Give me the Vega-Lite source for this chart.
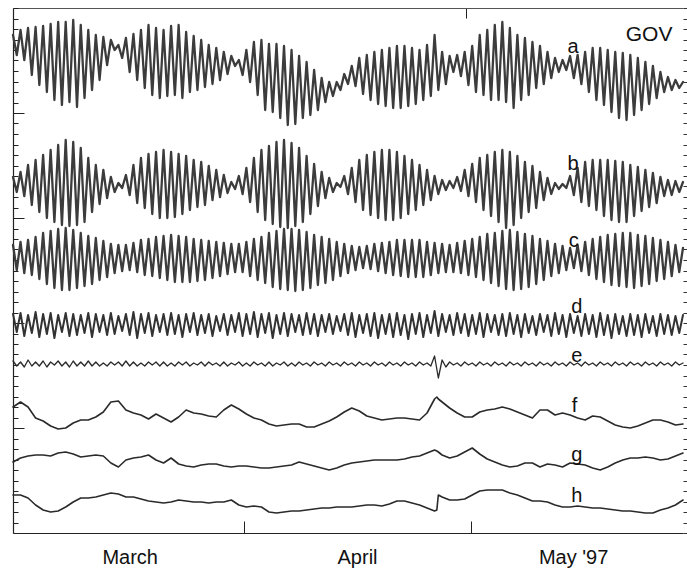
{
"$schema": "https://vega.github.io/schema/vega-lite/v6.json",
"width": 670, "height": 525,
"autosize": {"type": "none"},
"padding": {"left": 13, "top": 8, "right": 4, "bottom": 36},
"config": {"view": {"stroke": null}, "axis": {"grid": false}, "text": {"font": "Liberation Sans", "fill": "#111"}, "line": {"strokeJoin": "round", "strokeCap": "round"}},
"datasets": {
"osc": [
{"t":0,"a":3.3,"b":0.7,"c":1.2,"d":0.8,"e":0.3},{"t":0.5,"a":1.3,"b":-0.8,"c":-1.3,"d":-1.0,"e":-0.2},
{"t":1,"a":3.8,"b":1.2,"c":1.5,"d":0.9,"e":0.2},{"t":1.5,"a":0.8,"b":-1.2,"c":-1.6,"d":-1.4,"e":-0.3},
{"t":2,"a":4.0,"b":1.9,"c":1.7,"d":0.7,"e":0.4},{"t":2.5,"a":-0.7,"b":-2.1,"c":-1.8,"d":-1.1,"e":-0.2},
{"t":3,"a":4.1,"b":2.4,"c":2.0,"d":1.0,"e":0.2},{"t":3.5,"a":-1.7,"b":-2.8,"c":-2.2,"d":-1.5,"e":-0.2},
{"t":4,"a":4.2,"b":2.9,"c":2.4,"d":0.8,"e":0.3},{"t":4.5,"a":-2.4,"b":-3.4,"c":-2.7,"d":-1.2,"e":-0.3},
{"t":5,"a":4.4,"b":3.4,"c":2.6,"d":0.9,"e":0.2},{"t":5.5,"a":-3.2,"b":-3.8,"c":-3.1,"d":-1.6,"e":-0.1},
{"t":6,"a":4.6,"b":3.9,"c":2.8,"d":0.7,"e":0.3},{"t":6.5,"a":-3.7,"b":-4.1,"c":-3.3,"d":-1.0,"e":-0.2},
{"t":7,"a":4.6,"b":4.4,"c":2.9,"d":0.9,"e":0.2},{"t":7.5,"a":-3.4,"b":-4.2,"c":-3.3,"d":-1.4,"e":-0.3},
{"t":8,"a":4.8,"b":4.2,"c":2.7,"d":0.8,"e":0.3},{"t":8.5,"a":-3.9,"b":-4.1,"c":-3.1,"d":-1.3,"e":-0.2},
{"t":9,"a":4.3,"b":3.6,"c":2.4,"d":0.7,"e":0.2},{"t":9.5,"a":-3.0,"b":-3.8,"c":-2.9,"d":-1.1,"e":-0.2},
{"t":10,"a":3.8,"b":2.6,"c":2.1,"d":0.9,"e":0.3},{"t":10.5,"a":-2.2,"b":-2.8,"c":-2.7,"d":-1.5,"e":-0.2},
{"t":11,"a":3.3,"b":1.9,"c":1.9,"d":0.8,"e":0.2},{"t":11.5,"a":-1.2,"b":-2.0,"c":-2.3,"d":-1.0,"e":-0.2},
{"t":12,"a":3.1,"b":1.4,"c":1.6,"d":0.7,"e":0.1},{"t":12.5,"a":0.3,"b":-1.4,"c":-2.0,"d":-1.3,"e":-0.2},
{"t":13,"a":2.8,"b":0.7,"c":1.3,"d":0.9,"e":0.2},{"t":13.5,"a":1.8,"b":-0.8,"c":-1.6,"d":-1.2,"e":-0.1},
{"t":14,"a":2.3,"b":0.1,"c":1.2,"d":0.6,"e":0.2},{"t":14.5,"a":1.0,"b":-0.4,"c":-1.4,"d":-0.9,"e":-0.2},
{"t":15,"a":3.0,"b":0.9,"c":1.2,"d":0.8,"e":0.3},{"t":15.5,"a":-0.4,"b":-1.1,"c":-1.3,"d":-1.3,"e":-0.2},
{"t":16,"a":3.4,"b":1.9,"c":1.4,"d":1.0,"e":0.2},{"t":16.5,"a":-1.2,"b":-1.9,"c":-1.5,"d":-1.6,"e":-0.2},
{"t":17,"a":3.8,"b":2.6,"c":1.7,"d":0.8,"e":0.1},{"t":17.5,"a":-2.0,"b":-2.4,"c":-1.8,"d":-1.1,"e":-0.2},
{"t":18,"a":4.3,"b":3.0,"c":1.8,"d":0.9,"e":0.2},{"t":18.5,"a":-2.7,"b":-3.0,"c":-1.9,"d":-1.4,"e":-0.1},
{"t":19,"a":4.0,"b":3.2,"c":2.0,"d":0.7,"e":0.2},{"t":19.5,"a":-3.0,"b":-3.4,"c":-2.1,"d":-1.0,"e":-0.2},
{"t":20,"a":3.8,"b":3.4,"c":2.1,"d":0.8,"e":0.2},{"t":20.5,"a":-2.8,"b":-3.4,"c":-2.3,"d":-1.3,"e":-0.2},
{"t":21,"a":4.2,"b":3.2,"c":2.2,"d":0.9,"e":0.1},{"t":21.5,"a":-2.7,"b":-3.3,"c":-2.5,"d":-1.2,"e":-0.2},
{"t":22,"a":4.3,"b":3.0,"c":2.1,"d":0.7,"e":0.2},{"t":22.5,"a":-3.0,"b":-3.0,"c":-2.5,"d":-1.5,"e":-0.1},
{"t":23,"a":3.6,"b":2.8,"c":2.0,"d":0.8,"e":0.2},{"t":23.5,"a":-2.4,"b":-2.6,"c":-2.5,"d":-1.0,"e":-0.2},
{"t":24,"a":3.2,"b":2.4,"c":1.8,"d":0.9,"e":0.1},{"t":24.5,"a":-2.2,"b":-2.3,"c":-2.4,"d":-1.3,"e":-0.1},
{"t":25,"a":2.8,"b":2.2,"c":1.7,"d":0.7,"e":0.2},{"t":25.5,"a":-1.9,"b":-2.1,"c":-2.3,"d":-1.1,"e":-0.2},
{"t":26,"a":2.3,"b":1.8,"c":1.6,"d":0.8,"e":0.2},{"t":26.5,"a":-1.6,"b":-1.6,"c":-2.1,"d":-1.4,"e":-0.1},
{"t":27,"a":2.0,"b":1.4,"c":1.5,"d":0.6,"e":0.1},{"t":27.5,"a":-1.2,"b":-1.3,"c":-1.9,"d":-0.9,"e":-0.2},
{"t":28,"a":1.6,"b":0.9,"c":1.4,"d":0.8,"e":0.2},{"t":28.5,"a":-0.6,"b":-0.9,"c":-1.7,"d":-1.3,"e":-0.2},
{"t":29,"a":1.2,"b":0.2,"c":1.3,"d":0.7,"e":0.1},{"t":29.5,"a":0.2,"b":-0.5,"c":-1.5,"d":-1.0,"e":-0.1},
{"t":30,"a":0.8,"b":0.8,"c":1.3,"d":0.9,"e":0.2},{"t":30.5,"a":-0.7,"b":-1.0,"c":-1.5,"d":-1.4,"e":-0.2},
{"t":31,"a":1.8,"b":1.6,"c":1.5,"d":0.8,"e":0.1},{"t":31.5,"a":-1.4,"b":-1.8,"c":-1.9,"d":-1.2,"e":-0.2},
{"t":32,"a":2.6,"b":2.6,"c":1.8,"d":1.0,"e":0.2},{"t":32.5,"a":-2.7,"b":-2.8,"c":-2.3,"d":-1.5,"e":-0.1},
{"t":33,"a":2.8,"b":3.4,"c":2.0,"d":0.8,"e":0.1},{"t":33.5,"a":-4.2,"b":-3.6,"c":-2.6,"d":-1.1,"e":-0.2},
{"t":34,"a":2.4,"b":3.8,"c":2.4,"d":0.9,"e":0.2},{"t":34.5,"a":-4.4,"b":-4.0,"c":-3.0,"d":-1.6,"e":-0.2},
{"t":35,"a":2.4,"b":4.2,"c":2.6,"d":0.7,"e":0.1},{"t":35.5,"a":-5.0,"b":-4.3,"c":-3.2,"d":-1.2,"e":-0.1},
{"t":36,"a":2.2,"b":4.4,"c":2.8,"d":0.9,"e":0.2},{"t":36.5,"a":-5.7,"b":-4.4,"c":-3.3,"d":-1.4,"e":-0.2},
{"t":37,"a":1.8,"b":4.1,"c":2.8,"d":0.8,"e":0.1},{"t":37.5,"a":-5.6,"b":-4.2,"c":-3.4,"d":-1.0,"e":-0.2},
{"t":38,"a":1.2,"b":3.6,"c":2.7,"d":0.7,"e":0.2},{"t":38.5,"a":-5.0,"b":-3.8,"c":-3.3,"d":-1.3,"e":-0.1},
{"t":39,"a":0.6,"b":2.8,"c":2.5,"d":0.9,"e":0.1},{"t":39.5,"a":-4.7,"b":-3.0,"c":-3.1,"d":-1.2,"e":-0.2},
{"t":40,"a":-0.2,"b":2.0,"c":2.2,"d":0.8,"e":0.2},{"t":40.5,"a":-4.2,"b":-2.2,"c":-2.8,"d":-1.4,"e":-0.1},
{"t":41,"a":-1.0,"b":1.2,"c":2.0,"d":0.7,"e":0.1},{"t":41.5,"a":-3.4,"b":-1.4,"c":-2.6,"d":-1.0,"e":-0.2},
{"t":42,"a":-1.4,"b":0.6,"c":1.8,"d":0.8,"e":0.2},{"t":42.5,"a":-2.8,"b":-0.8,"c":-2.3,"d":-1.2,"e":-0.1},
{"t":43,"a":-1.4,"b":0.1,"c":1.5,"d":0.6,"e":0.1},{"t":43.5,"a":-2.2,"b":-0.3,"c":-1.9,"d":-0.9,"e":-0.2},
{"t":44,"a":-0.6,"b":0.8,"c":1.3,"d":0.8,"e":0.2},{"t":44.5,"a":-1.6,"b":-1.0,"c":-1.6,"d":-1.3,"e":-0.1},
{"t":45,"a":0.2,"b":1.6,"c":1.1,"d":0.9,"e":0.1},{"t":45.5,"a":-1.8,"b":-1.8,"c":-1.3,"d":-1.5,"e":-0.2},
{"t":46,"a":1.0,"b":2.4,"c":1.0,"d":0.7,"e":0.2},{"t":46.5,"a":-2.6,"b":-2.6,"c":-1.1,"d":-1.1,"e":-0.1},
{"t":47,"a":1.3,"b":2.9,"c":1.1,"d":0.8,"e":0.1},{"t":47.5,"a":-3.2,"b":-3.1,"c":-1.2,"d":-1.4,"e":-0.2},
{"t":48,"a":1.6,"b":3.2,"c":1.3,"d":0.9,"e":0.2},{"t":48.5,"a":-3.6,"b":-3.4,"c":-1.4,"d":-1.6,"e":-0.1},
{"t":49,"a":1.8,"b":3.4,"c":1.4,"d":0.7,"e":0.1},{"t":49.5,"a":-3.8,"b":-3.6,"c":-1.6,"d":-1.2,"e":-0.2},
{"t":50,"a":2.0,"b":3.4,"c":1.5,"d":0.8,"e":0.2},{"t":50.5,"a":-4.0,"b":-3.6,"c":-1.8,"d":-1.5,"e":-0.1},
{"t":51,"a":2.2,"b":3.2,"c":1.7,"d":0.9,"e":0.1},{"t":51.5,"a":-4.0,"b":-3.4,"c":-1.9,"d":-1.3,"e":-0.2},
{"t":52,"a":2.2,"b":2.8,"c":1.7,"d":0.7,"e":0.2},{"t":52.5,"a":-3.8,"b":-3.0,"c":-2.0,"d":-1.7,"e":-0.1},
{"t":53,"a":2.0,"b":2.4,"c":1.7,"d":0.8,"e":0.1},{"t":53.5,"a":-3.6,"b":-2.6,"c":-2.0,"d":-1.2,"e":-0.2},
{"t":54,"a":1.8,"b":1.9,"c":1.7,"d":0.9,"e":0.2},{"t":54.5,"a":-3.2,"b":-2.1,"c":-2.0,"d":-1.5,"e":-0.1},
{"t":55,"a":2.3,"b":1.4,"c":1.5,"d":0.7,"e":0.1},{"t":55.5,"a":-2.8,"b":-1.6,"c":-1.8,"d":-1.1,"e":-0.2},
{"t":56,"a":3.3,"b":0.8,"c":1.4,"d":1.1,"e":0.8},{"t":56.5,"a":-2.2,"b":-1.0,"c":-1.6,"d":-1.4,"e":-1.4},
{"t":57,"a":1.6,"b":0.4,"c":1.3,"d":0.8,"e":0.4},{"t":57.5,"a":-1.6,"b":-0.6,"c":-1.5,"d":-1.0,"e":-0.3},
{"t":58,"a":1.2,"b":0.3,"c":1.2,"d":0.7,"e":0.2},{"t":58.5,"a":-0.4,"b":-0.4,"c":-1.5,"d":-1.3,"e":-0.1},
{"t":59,"a":1.3,"b":0.7,"c":1.4,"d":0.9,"e":0.1},{"t":59.5,"a":-0.8,"b":-0.7,"c":-1.6,"d":-1.1,"e":-0.2},
{"t":60,"a":1.6,"b":1.4,"c":1.6,"d":0.8,"e":0.2},{"t":60.5,"a":-1.7,"b":-1.2,"c":-1.8,"d":-1.4,"e":-0.1},
{"t":61,"a":2.2,"b":2.0,"c":1.8,"d":0.7,"e":0.1},{"t":61.5,"a":-2.4,"b":-1.8,"c":-2.0,"d":-1.2,"e":-0.2},
{"t":62,"a":3.3,"b":2.6,"c":2.0,"d":0.9,"e":0.2},{"t":62.5,"a":-2.7,"b":-2.6,"c":-2.3,"d":-1.5,"e":-0.1},
{"t":63,"a":3.8,"b":2.9,"c":2.3,"d":0.8,"e":0.1},{"t":63.5,"a":-3.2,"b":-3.2,"c":-2.6,"d":-1.0,"e":-0.2},
{"t":64,"a":4.3,"b":3.2,"c":2.4,"d":0.7,"e":0.2},{"t":64.5,"a":-3.2,"b":-3.8,"c":-2.9,"d":-1.3,"e":-0.1},
{"t":65,"a":4.6,"b":3.4,"c":2.6,"d":0.8,"e":0.1},{"t":65.5,"a":-3.4,"b":-4.4,"c":-3.2,"d":-1.4,"e":-0.2},
{"t":66,"a":4.0,"b":3.2,"c":2.7,"d":0.9,"e":0.2},{"t":66.5,"a":-4.0,"b":-4.1,"c":-3.3,"d":-1.2,"e":-0.1},
{"t":67,"a":3.3,"b":2.8,"c":2.5,"d":0.7,"e":0.1},{"t":67.5,"a":-3.2,"b":-3.4,"c":-3.2,"d":-1.5,"e":-0.2},
{"t":68,"a":3.0,"b":2.2,"c":2.3,"d":0.8,"e":0.2},{"t":68.5,"a":-2.7,"b":-2.8,"c":-3.0,"d":-1.1,"e":-0.1},
{"t":69,"a":2.6,"b":1.8,"c":2.1,"d":0.6,"e":0.1},{"t":69.5,"a":-2.0,"b":-2.4,"c":-2.7,"d":-1.3,"e":-0.2},
{"t":70,"a":2.2,"b":1.2,"c":1.8,"d":0.8,"e":0.2},{"t":70.5,"a":-1.6,"b":-1.6,"c":-2.3,"d":-1.0,"e":-0.1},
{"t":71,"a":1.6,"b":0.6,"c":1.6,"d":0.7,"e":0.1},{"t":71.5,"a":-1.0,"b":-1.0,"c":-1.9,"d":-1.4,"e":-0.2},
{"t":72,"a":1.0,"b":0.1,"c":1.3,"d":0.9,"e":0.2},{"t":72.5,"a":-0.4,"b":-0.5,"c":-1.6,"d":-1.2,"e":-0.1},
{"t":73,"a":0.8,"b":0.0,"c":1.1,"d":0.7,"e":0.1},{"t":73.5,"a":-0.2,"b":-0.4,"c":-1.3,"d":-1.5,"e":-0.2},
{"t":74,"a":1.2,"b":0.8,"c":0.9,"d":0.8,"e":0.2},{"t":74.5,"a":-1.0,"b":-1.1,"c":-1.1,"d":-1.1,"e":-0.1},
{"t":75,"a":1.3,"b":1.6,"c":1.2,"d":0.6,"e":0.1},{"t":75.5,"a":-1.6,"b":-1.8,"c":-1.4,"d":-1.4,"e":-0.2},
{"t":76,"a":1.6,"b":2.2,"c":1.5,"d":0.8,"e":0.2},{"t":76.5,"a":-2.4,"b":-2.2,"c":-1.8,"d":-1.2,"e":-0.1},
{"t":77,"a":2.0,"b":2.4,"c":1.8,"d":0.7,"e":0.1},{"t":77.5,"a":-3.2,"b":-2.6,"c":-2.2,"d":-1.5,"e":-0.2},
{"t":78,"a":2.0,"b":2.4,"c":2.0,"d":0.9,"e":0.2},{"t":78.5,"a":-3.7,"b":-3.2,"c":-2.5,"d":-1.3,"e":-0.1},
{"t":79,"a":1.8,"b":2.4,"c":2.2,"d":0.7,"e":0.1},{"t":79.5,"a":-4.4,"b":-3.6,"c":-2.8,"d":-1.6,"e":-0.2},
{"t":80,"a":1.6,"b":2.3,"c":2.3,"d":0.8,"e":0.2},{"t":80.5,"a":-5.0,"b":-3.8,"c":-2.9,"d":-1.2,"e":-0.1},
{"t":81,"a":1.5,"b":2.2,"c":2.4,"d":0.6,"e":0.1},{"t":81.5,"a":-5.2,"b":-3.8,"c":-3.0,"d":-1.4,"e":-0.2},
{"t":82,"a":1.3,"b":1.9,"c":2.4,"d":0.8,"e":0.2},{"t":82.5,"a":-4.7,"b":-3.2,"c":-3.1,"d":-1.3,"e":-0.1},
{"t":83,"a":1.0,"b":1.7,"c":2.2,"d":0.7,"e":0.1},{"t":83.5,"a":-4.2,"b":-2.7,"c":-2.9,"d":-1.5,"e":-0.2},
{"t":84,"a":0.6,"b":1.4,"c":2.1,"d":0.8,"e":0.2},{"t":84.5,"a":-3.6,"b":-2.3,"c":-2.7,"d":-1.1,"e":-0.1},
{"t":85,"a":0.2,"b":1.1,"c":1.9,"d":0.6,"e":0.1},{"t":85.5,"a":-3.0,"b":-1.9,"c":-2.4,"d":-1.4,"e":-0.2},
{"t":86,"a":-0.4,"b":0.7,"c":1.7,"d":0.8,"e":0.2},{"t":86.5,"a":-2.4,"b":-1.2,"c":-2.2,"d":-1.2,"e":-0.1},
{"t":87,"a":-0.9,"b":0.4,"c":1.5,"d":0.7,"e":0.1},{"t":87.5,"a":-2.2,"b":-1.1,"c":-1.9,"d":-1.3,"e":-0.2},
{"t":88,"a":-1.2,"b":0.3,"c":1.2,"d":0.6,"e":0.2},{"t":88.5,"a":-2.0,"b":-0.8,"c":-1.5,"d":-1.1,"e":-0.1},
{"t":89,"a":-1.4,"b":0.2,"c":0.9,"d":0.7,"e":0.1}
],
"smooth": [
{"t":0,"f":0.8,"g":-0.2,"h":0.7},{"t":1,"f":1.3,"g":0.2,"h":0.7},{"t":2,"f":0.8,"g":0.4,"h":0.4},{"t":3,"f":-0.3,"g":0.5,"h":-0.3},
{"t":4,"f":-0.6,"g":0.5,"h":-0.8},{"t":5,"f":-1.1,"g":0.4,"h":-1.0},{"t":6,"f":-1.4,"g":0.7,"h":-0.9},{"t":7,"f":-1.3,"g":0.8,"h":-0.5},
{"t":8,"f":-0.8,"g":0.6,"h":0.0},{"t":9,"f":-0.5,"g":0.3,"h":0.4},{"t":10,"f":-0.5,"g":0.4,"h":0.4},{"t":11,"f":-0.2,"g":0.5,"h":0.5},
{"t":12,"f":0.3,"g":0.4,"h":0.7},{"t":13,"f":1.3,"g":-0.3,"h":0.9},{"t":14,"f":1.4,"g":-0.7,"h":0.8},{"t":15,"f":0.5,"g":0.0,"h":0.5},
{"t":16,"f":0.2,"g":0.2,"h":0.5},{"t":17,"f":0.0,"g":0.3,"h":0.3},{"t":18,"f":-0.4,"g":0.5,"h":0.1},{"t":19,"f":0.1,"g":0.0,"h":0.0},
{"t":20,"f":-0.3,"g":-0.3,"h":-0.1},{"t":21,"f":-0.7,"g":0.2,"h":0.0},{"t":22,"f":-0.2,"g":-0.4,"h":0.2},{"t":23,"f":0.5,"g":-0.6,"h":0.1},
{"t":24,"f":0.2,"g":-0.7,"h":0.0},{"t":25,"f":0.1,"g":-0.5,"h":0.0},{"t":26,"f":-0.1,"g":-0.4,"h":-0.1},{"t":27,"f":-0.2,"g":-0.4,"h":0.0},
{"t":28,"f":0.5,"g":-0.6,"h":0.0},{"t":29,"f":1.0,"g":-0.7,"h":0.2},{"t":30,"f":0.6,"g":-0.6,"h":-0.3},{"t":31,"f":0.1,"g":-0.6,"h":-0.5},
{"t":32,"f":-0.3,"g":-0.7,"h":-0.4},{"t":33,"f":-0.5,"g":-0.8,"h":-0.5},{"t":34,"f":-0.9,"g":-0.8,"h":-1.0},{"t":35,"f":-1.1,"g":-0.7,"h":-1.1},
{"t":36,"f":-1.0,"g":-0.6,"h":-1.0},{"t":37,"f":-0.9,"g":-0.5,"h":-0.9},{"t":38,"f":-0.9,"g":-0.2,"h":-0.9},{"t":39,"f":-1.2,"g":-0.4,"h":-0.8},
{"t":40,"f":-1.2,"g":-0.6,"h":-0.7},{"t":41,"f":-0.9,"g":-0.8,"h":-0.6},{"t":42,"f":-0.6,"g":-1.0,"h":-0.6},{"t":43,"f":-0.2,"g":-0.8,"h":-0.5},
{"t":44,"f":0.3,"g":-0.5,"h":-0.5},{"t":45,"f":0.7,"g":-0.3,"h":-0.5},{"t":46,"f":0.4,"g":-0.2,"h":-0.4},{"t":47,"f":-0.1,"g":-0.1,"h":-0.3},
{"t":48,"f":-0.3,"g":0.0,"h":-0.3},{"t":49,"f":-0.5,"g":0.0,"h":-0.4},{"t":50,"f":-0.4,"g":0.0,"h":-0.2},{"t":51,"f":-0.3,"g":0.0,"h":0.1},
{"t":52,"f":-0.3,"g":0.1,"h":0.1},{"t":53,"f":-0.4,"g":0.3,"h":-0.1},{"t":54,"f":-0.5,"g":0.4,"h":-0.3},{"t":55,"f":0.2,"g":0.7,"h":-0.6},
{"t":56,"f":1.6,"g":1.0,"h":-0.9},{"t":56.3,"f":1.8,"g":0.9,"h":-0.8},{"t":56.5,"f":1.6,"g":0.8,"h":0.7},{"t":57,"f":1.3,"g":0.5,"h":0.5},
{"t":58,"f":0.7,"g":0.2,"h":0.2},{"t":59,"f":0.2,"g":0.4,"h":0.2},{"t":60,"f":-0.2,"g":0.8,"h":0.3},{"t":61,"f":-0.2,"g":1.2,"h":0.7},
{"t":62,"f":0.3,"g":0.6,"h":1.1},{"t":63,"f":0.5,"g":0.1,"h":1.2},{"t":64,"f":0.6,"g":-0.2,"h":1.2},{"t":65,"f":0.8,"g":-0.5,"h":1.2},
{"t":66,"f":0.6,"g":-0.7,"h":0.9},{"t":67,"f":0.3,"g":-0.6,"h":0.7},{"t":68,"f":0.0,"g":-0.3,"h":0.4},{"t":69,"f":-0.3,"g":-0.3,"h":0.1},
{"t":70,"f":0.5,"g":-0.7,"h":0.1},{"t":71,"f":0.5,"g":-0.4,"h":0.0},{"t":72,"f":0.0,"g":-0.5,"h":-0.3},{"t":73,"f":0.2,"g":-0.7,"h":-0.5},
{"t":74,"f":0.0,"g":-0.3,"h":-0.5},{"t":75,"f":-0.3,"g":-0.4,"h":-0.4},{"t":76,"f":-0.5,"g":-0.5,"h":-0.5},{"t":77,"f":-0.1,"g":-0.8,"h":-0.6},
{"t":78,"f":-0.2,"g":-1.0,"h":-0.6},{"t":79,"f":-0.6,"g":-0.7,"h":-0.7},{"t":80,"f":-1.0,"g":-0.3,"h":-0.8},{"t":81,"f":-1.2,"g":0.0,"h":-0.9},
{"t":82,"f":-1.3,"g":0.2,"h":-0.9},{"t":83,"f":-1.1,"g":0.2,"h":-1.0},{"t":84,"f":-0.8,"g":0.3,"h":-1.1},{"t":85,"f":-0.5,"g":0.2,"h":-1.1},
{"t":86,"f":-0.5,"g":0.0,"h":-0.8},{"t":87,"f":-0.7,"g":0.1,"h":-0.6},{"t":88,"f":-1.0,"g":0.4,"h":-0.3},{"t":89,"f":-0.9,"g":0.7,"h":0.2}
]
},
"layer": [
  {"data": {"values": [{}]}, "mark": {"type": "point", "opacity": 0},
   "encoding": {
     "x": {"datum": 0, "type": "quantitative", "scale": {"domain": [0, 89], "nice": false, "zero": false},
       "axis": {"orient": "bottom", "title": null, "values": [15.5, 30.7, 45.7, 60.8, 74.4], "domain": true, "domainColor": "#222", "domainWidth": 1.2,
         "tickSize": -12, "tickColor": "#222", "tickWidth": 1,
         "tickOpacity": {"condition": {"test": "datum.value == 30.7 || datum.value == 60.8", "value": 1}, "value": 0},
         "labelExpr": "datum.value < 20 ? 'March' : datum.value < 40 ? '' : datum.value < 50 ? 'April' : datum.value < 70 ? '' : \"May '97\"",
         "labelFont": "Liberation Sans", "labelFontSize": 20, "labelColor": "#111", "labelPadding": 26, "labelFlush": false, "labelOverlap": false}},
     "y": {"datum": 0, "type": "quantitative", "scale": {"domain": [0, 50], "nice": false, "zero": false},
       "axis": {"orient": "left", "title": null, "labels": false, "values": [0,1,2,3,4,5,6,7,8,9,10,11,12,13,14,15,16,17,18,19,20,21,22,23,24,25,26,27,28,29,30,31,32,33,34,35,36,37,38,39,40,41,42,43,44,45,46,47,48,49,50],
         "domainColor": "#222", "domainWidth": 1.2, "tickSize": -5, "tickColor": "#222"}}
   }},
  {"data": {"values": [{}]}, "mark": {"type": "point", "opacity": 0},
   "encoding": {
     "x": {"datum": 0, "type": "quantitative", "scale": {"domain": [0, 89], "nice": false, "zero": false},
       "axis": {"orient": "top", "title": null, "values": [60.2], "labels": false, "domain": true, "domainColor": "#555", "domainWidth": 1, "tickSize": -10, "tickColor": "#222"}},
     "y": {"datum": 0, "type": "quantitative", "scale": {"domain": [0, 50], "nice": false, "zero": false},
       "axis": {"orient": "left", "title": null, "labels": false, "domain": false, "values": [10, 20, 30, 40], "tickSize": -11, "tickColor": "#222"}}
   }},
  {"data": {"values": [{}]}, "mark": {"type": "point", "opacity": 0},
   "encoding": {
     "x": {"datum": 0, "type": "quantitative", "scale": {"domain": [0, 89], "nice": false, "zero": false}, "axis": null},
     "y": {"datum": 0, "type": "quantitative", "scale": {"domain": [0, 50], "nice": false, "zero": false},
       "axis": {"orient": "right", "title": null, "labels": false, "domain": false, "values": [0,1,2,3,4,5,6,7,8,9,10,11,12,13,14,15,16,17,18,19,20,21,22,23,24,25,26,27,28,29,30,31,32,33,34,35,36,37,38,39,40,41,42,43,44,45,46,47,48,49,50],
         "tickSize": 4, "tickColor": "#333"}}
   }},
  {"data": {"name": "osc"}, "mark": {"type": "line", "color": "#3c3c3c", "strokeWidth": 2.3},
   "encoding": {"x": {"field": "t", "type": "quantitative", "scale": {"domain": [0, 89], "nice": false, "zero": false}, "axis": null},
     "y": {"field": "a", "type": "quantitative", "scale": {"domain": [-46.5, 6], "nice": false, "zero": false}, "axis": null}}},
  {"data": {"name": "osc"}, "mark": {"type": "line", "color": "#3c3c3c", "strokeWidth": 2.3},
   "encoding": {"x": {"field": "t", "type": "quantitative", "scale": {"domain": [0, 89], "nice": false, "zero": false}, "axis": null},
     "y": {"field": "b", "type": "quantitative", "scale": {"domain": [-34.9, 17.6], "nice": false, "zero": false}, "axis": null}}},
  {"data": {"name": "osc"}, "mark": {"type": "line", "color": "#3c3c3c", "strokeWidth": 2.3},
   "encoding": {"x": {"field": "t", "type": "quantitative", "scale": {"domain": [0, 89], "nice": false, "zero": false}, "axis": null},
     "y": {"field": "c", "type": "quantitative", "scale": {"domain": [-27.6, 24.9], "nice": false, "zero": false}, "axis": null}}},
  {"data": {"name": "osc"}, "mark": {"type": "line", "color": "#333", "strokeWidth": 2},
   "encoding": {"x": {"field": "t", "type": "quantitative", "scale": {"domain": [0, 89], "nice": false, "zero": false}, "axis": null},
     "y": {"field": "d", "type": "quantitative", "scale": {"domain": [-21.1, 31.4], "nice": false, "zero": false}, "axis": null}}},
  {"data": {"name": "osc"}, "mark": {"type": "line", "color": "#2a2a2a", "strokeWidth": 1.3},
   "encoding": {"x": {"field": "t", "type": "quantitative", "scale": {"domain": [0, 89], "nice": false, "zero": false}, "axis": null},
     "y": {"field": "e", "type": "quantitative", "scale": {"domain": [-16.9, 35.6], "nice": false, "zero": false}, "axis": null}}},
  {"data": {"name": "smooth"}, "mark": {"type": "line", "color": "#2a2a2a", "strokeWidth": 1.6},
   "encoding": {"x": {"field": "t", "type": "quantitative", "scale": {"domain": [0, 89], "nice": false, "zero": false}, "axis": null},
     "y": {"field": "f", "type": "quantitative", "scale": {"domain": [-11.8, 40.7], "nice": false, "zero": false}, "axis": null}}},
  {"data": {"name": "smooth"}, "mark": {"type": "line", "color": "#2a2a2a", "strokeWidth": 1.6},
   "encoding": {"x": {"field": "t", "type": "quantitative", "scale": {"domain": [0, 89], "nice": false, "zero": false}, "axis": null},
     "y": {"field": "g", "type": "quantitative", "scale": {"domain": [-7.3, 45.2], "nice": false, "zero": false}, "axis": null}}},
  {"data": {"name": "smooth"}, "mark": {"type": "line", "color": "#2a2a2a", "strokeWidth": 1.6},
   "encoding": {"x": {"field": "t", "type": "quantitative", "scale": {"domain": [0, 89], "nice": false, "zero": false}, "axis": null},
     "y": {"field": "h", "type": "quantitative", "scale": {"domain": [-3.1, 49.4], "nice": false, "zero": false}, "axis": null}}},
  {"data": {"values": [{"lbl": "GOV"}]}, "mark": {"type": "text", "fontSize": 21, "align": "center", "baseline": "alphabetic"},
   "encoding": {"text": {"field": "lbl"}, "x": {"datum": 84.5, "type": "quantitative", "scale": {"domain": [0, 89], "nice": false, "zero": false}, "axis": null}, "y": {"datum": 46.86, "type": "quantitative", "scale": {"domain": [0, 50], "nice": false, "zero": false}, "axis": null}}},
  {"data": {"values": [{"lbl": "a"}]}, "mark": {"type": "text", "fontSize": 20, "align": "center", "baseline": "alphabetic"},
   "encoding": {"text": {"field": "lbl"}, "x": {"datum": 74.4, "type": "quantitative", "scale": {"domain": [0, 89], "nice": false, "zero": false}, "axis": null}, "y": {"datum": 45.71, "type": "quantitative", "scale": {"domain": [0, 50], "nice": false, "zero": false}, "axis": null}}},
  {"data": {"values": [{"lbl": "b"}]}, "mark": {"type": "text", "fontSize": 20, "align": "center", "baseline": "alphabetic"},
   "encoding": {"text": {"field": "lbl"}, "x": {"datum": 74.4, "type": "quantitative", "scale": {"domain": [0, 89], "nice": false, "zero": false}, "axis": null}, "y": {"datum": 34.57, "type": "quantitative", "scale": {"domain": [0, 50], "nice": false, "zero": false}, "axis": null}}},
  {"data": {"values": [{"lbl": "c"}]}, "mark": {"type": "text", "fontSize": 20, "align": "center", "baseline": "alphabetic"},
   "encoding": {"text": {"field": "lbl"}, "x": {"datum": 74.5, "type": "quantitative", "scale": {"domain": [0, 89], "nice": false, "zero": false}, "axis": null}, "y": {"datum": 27.24, "type": "quantitative", "scale": {"domain": [0, 50], "nice": false, "zero": false}, "axis": null}}},
  {"data": {"values": [{"lbl": "d"}]}, "mark": {"type": "text", "fontSize": 20, "align": "center", "baseline": "alphabetic"},
   "encoding": {"text": {"field": "lbl"}, "x": {"datum": 74.9, "type": "quantitative", "scale": {"domain": [0, 89], "nice": false, "zero": false}, "axis": null}, "y": {"datum": 20.95, "type": "quantitative", "scale": {"domain": [0, 50], "nice": false, "zero": false}, "axis": null}}},
  {"data": {"values": [{"lbl": "e"}]}, "mark": {"type": "text", "fontSize": 20, "align": "center", "baseline": "alphabetic"},
   "encoding": {"text": {"field": "lbl"}, "x": {"datum": 74.9, "type": "quantitative", "scale": {"domain": [0, 89], "nice": false, "zero": false}, "axis": null}, "y": {"datum": 16.29, "type": "quantitative", "scale": {"domain": [0, 50], "nice": false, "zero": false}, "axis": null}}},
  {"data": {"values": [{"lbl": "f"}]}, "mark": {"type": "text", "fontSize": 20, "align": "center", "baseline": "alphabetic"},
   "encoding": {"text": {"field": "lbl"}, "x": {"datum": 74.6, "type": "quantitative", "scale": {"domain": [0, 89], "nice": false, "zero": false}, "axis": null}, "y": {"datum": 11.52, "type": "quantitative", "scale": {"domain": [0, 50], "nice": false, "zero": false}, "axis": null}}},
  {"data": {"values": [{"lbl": "g"}]}, "mark": {"type": "text", "fontSize": 20, "align": "center", "baseline": "alphabetic"},
   "encoding": {"text": {"field": "lbl"}, "x": {"datum": 74.9, "type": "quantitative", "scale": {"domain": [0, 89], "nice": false, "zero": false}, "axis": null}, "y": {"datum": 6.86, "type": "quantitative", "scale": {"domain": [0, 50], "nice": false, "zero": false}, "axis": null}}},
  {"data": {"values": [{"lbl": "h"}]}, "mark": {"type": "text", "fontSize": 20, "align": "center", "baseline": "alphabetic"},
   "encoding": {"text": {"field": "lbl"}, "x": {"datum": 74.9, "type": "quantitative", "scale": {"domain": [0, 89], "nice": false, "zero": false}, "axis": null}, "y": {"datum": 2.95, "type": "quantitative", "scale": {"domain": [0, 50], "nice": false, "zero": false}, "axis": null}}}
],
"resolve": {"scale": {"y": "independent"}, "axis": {"x": "independent", "y": "independent"}}
}
